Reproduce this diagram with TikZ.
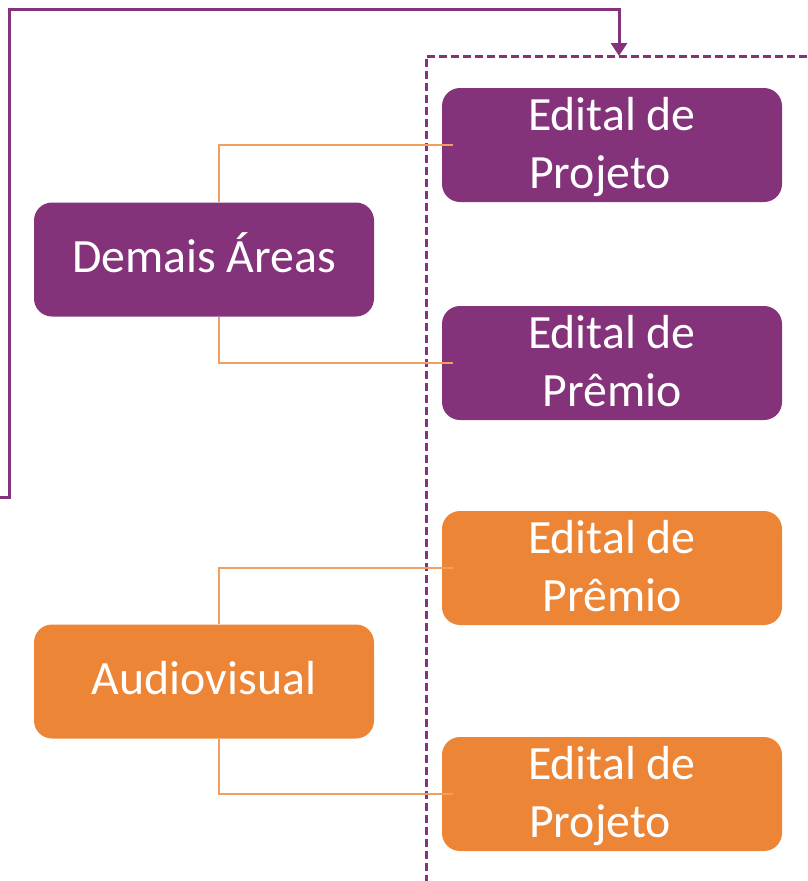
\documentclass[tikz,border=0pt]{standalone}
\usepackage{fontspec}
\setmainfont{Carlito}
\usetikzlibrary{arrows.meta,calc}
\definecolor{pur}{HTML}{84327A}
\definecolor{ora}{HTML}{ED8537}
\definecolor{connc}{HTML}{F29E60}
\tikzset{
  box/.style={rounded corners=18pt, minimum width=340pt, minimum height=114pt, inner sep=0pt, draw=none},
  pbox/.style={box, fill=pur},
  obox/.style={box, fill=ora},
  lbl/.style={text=white, font=\fontsize{47.8}{58}\selectfont, align=center, inner sep=0pt, anchor=north},
  connline/.style={draw=connc, line width=1.5pt},
  outerline/.style={draw=pur, line width=3pt},
  dashline/.style={draw=pur, line width=3pt, dash pattern=on 8pt off 4pt},
}
\begin{document}
\begin{tikzpicture}[x=1pt, y=-1pt]
\useasboundingbox (0,0) rectangle (807,881);
% dashed frame
\coordinate (dr) at (807,56);
\coordinate (dc) at (426,56);
\coordinate (db) at (426,881);
\draw[dashline] (dr) -- (dc) -- (db);
% outer purple line with arrow
\coordinate (s) at (0,497);
\coordinate (c1) at (9.5,497);
\coordinate (c2) at (9.5,9.5);
\coordinate (c3) at (619,9.5);
\coordinate (dt) at (619,56);
\draw[outerline, -{Triangle[width=16pt,length=13pt]}] (s) -- (c1) -- (c2) -- (c3) -- (dt);
% boxes
\node[pbox] (d) at (204,259.5) {};
\node[pbox] (p1) at (612,145) {};
\node[pbox] (p2) at (612,363) {};
\node[obox] (o1) at (612,568) {};
\node[obox] (a) at (204,681.5) {};
\node[obox] (o2) at (612,794) {};
% labels
\node[lbl, anchor=base] (td) at (204,272) {Demais Áreas};
\node[lbl, anchor=base] (ta) at (204,694) {Audiovisual};
\node[lbl] (tp1) at (612,130-35) {\rule{0pt}{35pt}Edital de\\Projeto\hspace*{24pt}};
\node[lbl] (tp2) at (612,348-35) {\rule{0pt}{35pt}Edital de\\Prêmio};
\node[lbl] (to1) at (612,553-35) {\rule{0pt}{35pt}Edital de\\Prêmio};
\node[lbl] (to2) at (612,779-35) {\rule{0pt}{35pt}Edital de\\Projeto\hspace*{24pt}};
% connectors
\draw[connline] ($(d.north)+(15pt,0)$) |- ($(p1.west)+(11pt,0)$);
\draw[connline] ($(d.south)+(15pt,0)$) |- ($(p2.west)+(11pt,0)$);
\draw[connline] ($(a.north)+(15pt,0)$) |- ($(o1.west)+(11pt,0)$);
\draw[connline] ($(a.south)+(15pt,0)$) |- ($(o2.west)+(11pt,0)$);
\end{tikzpicture}
\end{document}
